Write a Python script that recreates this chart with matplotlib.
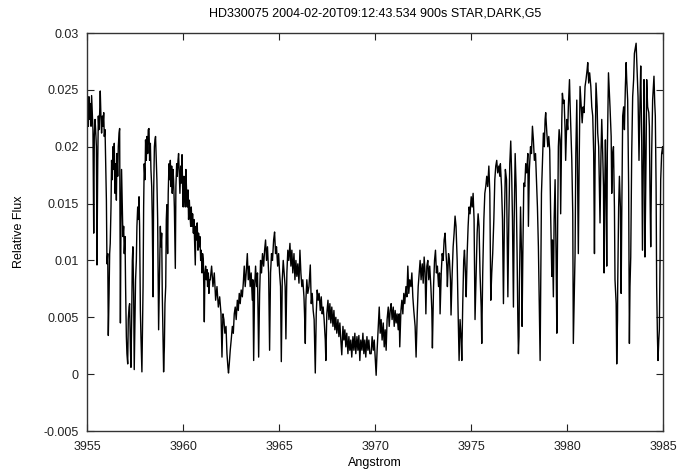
import numpy as np
import matplotlib
matplotlib.use("Agg")
import matplotlib.pyplot as plt

# spectrum, split into four pieces (Angstrom, relative flux)
wl_a = [3955.00, 3955.03, 3955.07, 3955.10, 3955.14, 3955.17, 3955.21, 3955.24, 3955.28, 3955.31,
        3955.35, 3955.38, 3955.42, 3955.45, 3955.49, 3955.52, 3955.56, 3955.59, 3955.62, 3955.66,
        3955.69, 3955.73, 3955.76, 3955.80, 3955.83, 3955.87, 3955.90, 3955.94, 3955.97, 3956.01,
        3956.04, 3956.08, 3956.11, 3956.15, 3956.18, 3956.21, 3956.25, 3956.28, 3956.32, 3956.35,
        3956.39, 3956.42, 3956.46, 3956.49, 3956.53, 3956.56, 3956.60, 3956.63, 3956.67, 3956.70,
        3956.74, 3956.77, 3956.80, 3956.84, 3956.87, 3956.91, 3956.94, 3956.98, 3957.01, 3957.05,
        3957.08, 3957.12, 3957.15, 3957.19, 3957.22, 3957.26, 3957.29, 3957.33, 3957.36, 3957.39,
        3957.43, 3957.46, 3957.50, 3957.53, 3957.57, 3957.60, 3957.64, 3957.67, 3957.71, 3957.74,
        3957.78, 3957.81, 3957.86, 3957.92, 3957.95, 3957.98, 3958.02, 3958.05, 3958.09, 3958.12,
        3958.16, 3958.19, 3958.23, 3958.26, 3958.30, 3958.33, 3958.37, 3958.40, 3958.44, 3958.47,
        3958.51, 3958.54, 3958.57, 3958.61, 3958.64, 3958.68, 3958.73, 3958.78, 3958.82, 3958.85,
        3958.89, 3958.92, 3958.96, 3958.99, 3959.03, 3959.06, 3959.10, 3959.13, 3959.16, 3959.20,
        3959.23, 3959.27, 3959.30, 3959.34, 3959.37, 3959.41, 3959.44, 3959.48, 3959.51, 3959.55,
        3959.60, 3959.63, 3959.67, 3959.70, 3959.74, 3959.77, 3959.81, 3959.84, 3959.88, 3959.91,
        3959.95, 3959.98, 3960.01, 3960.05, 3960.08, 3960.12, 3960.15, 3960.19, 3960.22, 3960.26,
        3960.29, 3960.33, 3960.36, 3960.40, 3960.43, 3960.47, 3960.50, 3960.54, 3960.57, 3960.60,
        3960.64, 3960.67, 3960.71, 3960.74, 3960.78, 3960.81, 3960.85, 3960.88, 3960.92, 3960.95,
        3960.99, 3961.02, 3961.06, 3961.11, 3961.14, 3961.18, 3961.21, 3961.25, 3961.28, 3961.32,
        3961.35, 3961.39]
flux_a = [0.0224, 0.0241, 0.0218, 0.0244, 0.0224, 0.0238, 0.0218, 0.0245, 0.0227, 0.0215,
          0.0124, 0.0209, 0.0224, 0.0215, 0.0200, 0.0096, 0.0188, 0.0227, 0.0215, 0.0230,
          0.0249, 0.0224, 0.0212, 0.0227, 0.0218, 0.0230, 0.0209, 0.0215, 0.0188, 0.0153,
          0.0097, 0.0106, 0.0034, 0.0071, 0.0106, 0.0115, 0.0147, 0.0188, 0.0171, 0.0200,
          0.0180, 0.0203, 0.0159, 0.0185, 0.0153, 0.0194, 0.0174, 0.0200, 0.0212, 0.0216,
          0.0045, 0.0136, 0.0180, 0.0147, 0.0121, 0.0130, 0.0106, 0.0121, 0.0077, 0.0033,
          0.0018, 0.0009, 0.0048, 0.0059, 0.0062, 0.0024, 0.0006, 0.0053, 0.0100, 0.0112,
          0.0071, 0.0004, 0.0048, 0.0083, 0.0100, 0.0130, 0.0147, 0.0136, 0.0156, 0.0130,
          0.0056, 0.0033, 0.0002, 0.0077, 0.0147, 0.0185, 0.0171, 0.0206, 0.0188, 0.0209,
          0.0194, 0.0215, 0.0216, 0.0188, 0.0203, 0.0180, 0.0165, 0.0136, 0.0068, 0.0159,
          0.0200, 0.0206, 0.0209, 0.0188, 0.0171, 0.0136, 0.0039, 0.0089, 0.0130, 0.0112,
          0.0124, 0.0071, 0.0030, 0.0002, 0.0024, 0.0062, 0.0077, 0.0136, 0.0149, 0.0106,
          0.0159, 0.0185, 0.0171, 0.0188, 0.0165, 0.0183, 0.0159, 0.0180, 0.0171, 0.0147,
          0.0093, 0.0165, 0.0185, 0.0174, 0.0188, 0.0194, 0.0174, 0.0159, 0.0183, 0.0168,
          0.0193, 0.0165, 0.0147, 0.0174, 0.0159, 0.0147, 0.0180, 0.0159, 0.0147, 0.0162,
          0.0136, 0.0153, 0.0141, 0.0130, 0.0147, 0.0130, 0.0141, 0.0124, 0.0136, 0.0118,
          0.0096, 0.0130, 0.0118, 0.0133, 0.0109, 0.0124, 0.0112, 0.0121, 0.0100, 0.0109,
          0.0089, 0.0106, 0.0100, 0.0046, 0.0089, 0.0095, 0.0083, 0.0092, 0.0077, 0.0089,
          0.0071, 0.0083]

wl_b = [3961.42, 3961.49, 3961.56, 3961.63, 3961.70, 3961.77, 3961.84, 3961.91, 3961.98, 3962.03,
        3962.08, 3962.13, 3962.18, 3962.24, 3962.29, 3962.34, 3962.37, 3962.41, 3962.46, 3962.51,
        3962.57, 3962.62, 3962.67, 3962.72, 3962.77, 3962.83, 3962.88, 3962.93, 3962.98, 3963.03,
        3963.09, 3963.14, 3963.19, 3963.24, 3963.29, 3963.35, 3963.40, 3963.45, 3963.50, 3963.55,
        3963.61, 3963.64, 3963.68, 3963.73, 3963.78, 3963.83, 3963.88, 3963.94, 3963.99, 3964.04,
        3964.09, 3964.14, 3964.20, 3964.25, 3964.30, 3964.35, 3964.40, 3964.46, 3964.51, 3964.56,
        3964.61, 3964.66, 3964.72, 3964.77, 3964.82, 3964.87, 3964.93, 3964.98, 3965.03, 3965.08,
        3965.12, 3965.17, 3965.22, 3965.27, 3965.32, 3965.36, 3965.41, 3965.46, 3965.51, 3965.57,
        3965.62, 3965.67, 3965.72, 3965.78, 3965.83, 3965.88, 3965.93, 3965.98, 3966.04, 3966.09,
        3966.14, 3966.19, 3966.24, 3966.30, 3966.33, 3966.37, 3966.40, 3966.45, 3966.50, 3966.56,
        3966.63, 3966.68, 3966.73, 3966.78, 3966.83, 3966.89, 3966.94, 3966.99, 3967.04, 3967.09,
        3967.15, 3967.20, 3967.25, 3967.30, 3967.35, 3967.41, 3967.44, 3967.49, 3967.55, 3967.60,
        3967.65, 3967.70, 3967.75, 3967.81, 3967.86, 3967.91, 3967.96, 3968.01, 3968.07, 3968.12,
        3968.17, 3968.22, 3968.27, 3968.33, 3968.38, 3968.43, 3968.48, 3968.53, 3968.59, 3968.64,
        3968.69, 3968.74, 3968.79, 3968.85, 3968.90, 3968.95, 3969.00, 3969.06, 3969.11, 3969.16,
        3969.21, 3969.26, 3969.32, 3969.37, 3969.42, 3969.47, 3969.52, 3969.58, 3969.63, 3969.68,
        3969.73]
flux_b = [0.0083, 0.0095, 0.0077, 0.0089, 0.0065, 0.0077, 0.0059, 0.0068, 0.0053, 0.0015,
          0.0053, 0.0048, 0.0036, 0.0042, 0.0018, 0.0006, 0.0001, 0.0009, 0.0021, 0.0030,
          0.0042, 0.0036, 0.0053, 0.0059, 0.0048, 0.0065, 0.0056, 0.0071, 0.0062, 0.0074,
          0.0068, 0.0080, 0.0095, 0.0077, 0.0089, 0.0106, 0.0083, 0.0095, 0.0077, 0.0089,
          0.0065, 0.0083, 0.0012, 0.0077, 0.0095, 0.0077, 0.0089, 0.0015, 0.0071, 0.0100,
          0.0089, 0.0106, 0.0095, 0.0109, 0.0118, 0.0100, 0.0112, 0.0089, 0.0021, 0.0089,
          0.0106, 0.0100, 0.0118, 0.0125, 0.0106, 0.0112, 0.0095, 0.0106, 0.0089, 0.0077,
          0.0011, 0.0083, 0.0100, 0.0089, 0.0077, 0.0031, 0.0089, 0.0109, 0.0100, 0.0115,
          0.0095, 0.0109, 0.0089, 0.0106, 0.0083, 0.0100, 0.0086, 0.0097, 0.0080, 0.0109,
          0.0089, 0.0077, 0.0083, 0.0068, 0.0053, 0.0027, 0.0065, 0.0083, 0.0071, 0.0077,
          0.0096, 0.0062, 0.0071, 0.0056, 0.0048, 0.0001, 0.0053, 0.0074, 0.0065, 0.0071,
          0.0056, 0.0068, 0.0053, 0.0059, 0.0048, 0.0030, 0.0012, 0.0053, 0.0065, 0.0048,
          0.0062, 0.0045, 0.0059, 0.0042, 0.0056, 0.0039, 0.0050, 0.0036, 0.0048, 0.0033,
          0.0045, 0.0030, 0.0017, 0.0042, 0.0030, 0.0039, 0.0024, 0.0036, 0.0018, 0.0033,
          0.0021, 0.0030, 0.0015, 0.0033, 0.0021, 0.0036, 0.0018, 0.0033, 0.0021, 0.0034,
          0.0012, 0.0030, 0.0021, 0.0036, 0.0018, 0.0030, 0.0015, 0.0033, 0.0021, 0.0030,
          0.0018]

wl_c = [3969.80, 3969.85, 3969.91, 3969.96, 3970.01, 3970.06, 3970.11, 3970.17, 3970.22, 3970.27,
        3970.32, 3970.37, 3970.43, 3970.48, 3970.53, 3970.58, 3970.63, 3970.69, 3970.74, 3970.79,
        3970.84, 3970.89, 3970.95, 3971.00, 3971.05, 3971.10, 3971.15, 3971.21, 3971.26, 3971.29,
        3971.35, 3971.40, 3971.45, 3971.50, 3971.55, 3971.61, 3971.66, 3971.71, 3971.76, 3971.81,
        3971.87, 3971.92, 3971.97, 3972.02, 3972.09, 3972.14, 3972.20, 3972.25, 3972.30, 3972.35,
        3972.40, 3972.46, 3972.51, 3972.56, 3972.61, 3972.65, 3972.70, 3972.75, 3972.80, 3972.85,
        3972.91, 3972.96, 3972.99, 3973.05, 3973.10, 3973.15, 3973.20, 3973.25, 3973.31, 3973.36,
        3973.39, 3973.45, 3973.50, 3973.55, 3973.60, 3973.65, 3973.70, 3973.74, 3973.77, 3973.83,
        3973.88, 3973.93, 3973.96, 3974.02, 3974.07, 3974.12, 3974.17, 3974.22, 3974.28, 3974.33,
        3974.38, 3974.43, 3974.49, 3974.52, 3974.57, 3974.62, 3974.66, 3974.71, 3974.75, 3974.80,
        3974.85, 3974.90, 3974.95, 3975.01, 3975.06, 3975.11, 3975.16, 3975.21, 3975.27, 3975.32,
        3975.37, 3975.42, 3975.47, 3975.53, 3975.56, 3975.61, 3975.67, 3975.72, 3975.77, 3975.82,
        3975.87, 3975.93, 3975.98, 3976.03, 3976.08, 3976.13, 3976.19, 3976.24, 3976.29, 3976.34,
        3976.39, 3976.45, 3976.50, 3976.53, 3976.59, 3976.64, 3976.69, 3976.74, 3976.79, 3976.85,
        3976.88, 3976.92, 3976.97, 3977.02, 3977.07, 3977.12, 3977.16, 3977.21, 3977.25, 3977.30,
        3977.35, 3977.40, 3977.44, 3977.47, 3977.50]
flux_c = [0.0018, 0.0033, 0.0021, 0.0030, 0.0015, -0.0001, 0.0021, 0.0042, 0.0059, 0.0036,
          0.0048, 0.0030, 0.0045, 0.0024, 0.0039, 0.0021, 0.0048, 0.0059, 0.0042, 0.0056,
          0.0062, 0.0048, 0.0059, 0.0042, 0.0056, 0.0045, 0.0053, 0.0039, 0.0053, 0.0024,
          0.0056, 0.0065, 0.0053, 0.0071, 0.0062, 0.0077, 0.0068, 0.0095, 0.0071, 0.0083,
          0.0077, 0.0089, 0.0068, 0.0056, 0.0042, 0.0015, 0.0053, 0.0077, 0.0089, 0.0100,
          0.0083, 0.0097, 0.0080, 0.0103, 0.0089, 0.0053, 0.0095, 0.0100, 0.0083, 0.0095,
          0.0077, 0.0056, 0.0023, 0.0077, 0.0100, 0.0109, 0.0089, 0.0095, 0.0077, 0.0089,
          0.0053, 0.0089, 0.0106, 0.0100, 0.0118, 0.0124, 0.0106, 0.0095, 0.0077, 0.0106,
          0.0100, 0.0083, 0.0052, 0.0089, 0.0112, 0.0124, 0.0139, 0.0130, 0.0100, 0.0053,
          0.0012, 0.0048, 0.0030, 0.0012, 0.0062, 0.0100, 0.0109, 0.0089, 0.0068, 0.0106,
          0.0130, 0.0147, 0.0141, 0.0156, 0.0147, 0.0159, 0.0136, 0.0048, 0.0089, 0.0124,
          0.0141, 0.0130, 0.0089, 0.0059, 0.0027, 0.0089, 0.0136, 0.0159, 0.0165, 0.0174,
          0.0165, 0.0183, 0.0159, 0.0065, 0.0089, 0.0106, 0.0136, 0.0171, 0.0183, 0.0188,
          0.0177, 0.0183, 0.0174, 0.0185, 0.0165, 0.0136, 0.0062, 0.0136, 0.0180, 0.0171,
          0.0130, 0.0068, 0.0136, 0.0185, 0.0205, 0.0174, 0.0136, 0.0059, 0.0136, 0.0194,
          0.0165, 0.0106, 0.0048, 0.0018, 0.0033]

wl_d = [3977.52, 3977.58, 3977.63, 3977.66, 3977.70, 3977.75, 3977.80, 3977.85, 3977.90, 3977.96,
        3977.99, 3978.04, 3978.10, 3978.15, 3978.20, 3978.25, 3978.30, 3978.36, 3978.41, 3978.46,
        3978.51, 3978.56, 3978.60, 3978.63, 3978.67, 3978.72, 3978.77, 3978.82, 3978.86, 3978.89,
        3978.95, 3979.00, 3979.05, 3979.10, 3979.15, 3979.21, 3979.24, 3979.29, 3979.33, 3979.38,
        3979.43, 3979.47, 3979.50, 3979.55, 3979.59, 3979.64, 3979.67, 3979.73, 3979.76, 3979.81,
        3979.85, 3979.90, 3979.93, 3979.99, 3980.04, 3980.07, 3980.13, 3980.16, 3980.20, 3980.25,
        3980.30, 3980.33, 3980.37, 3980.42, 3980.46, 3980.51, 3980.54, 3980.59, 3980.63, 3980.68,
        3980.73, 3980.79, 3980.84, 3980.89, 3980.94, 3980.99, 3981.05, 3981.08, 3981.13, 3981.18,
        3981.24, 3981.29, 3981.34, 3981.39, 3981.43, 3981.46, 3981.51, 3981.57, 3981.60, 3981.65,
        3981.72, 3981.77, 3981.81, 3981.86, 3981.90, 3981.93, 3981.97, 3982.00, 3982.03, 3982.07,
        3982.10, 3982.16, 3982.21, 3982.24, 3982.30, 3982.33, 3982.38, 3982.42, 3982.47, 3982.50,
        3982.56, 3982.59, 3982.63, 3982.64, 3982.69, 3982.73, 3982.78, 3982.82, 3982.85, 3982.90,
        3982.95, 3982.99, 3983.04, 3983.08, 3983.11, 3983.16, 3983.21, 3983.25, 3983.28, 3983.32,
        3983.37, 3983.42, 3983.47, 3983.51, 3983.54, 3983.60, 3983.65, 3983.70, 3983.75, 3983.80,
        3983.84, 3983.89, 3983.93, 3983.98, 3984.01, 3984.05, 3984.06, 3984.12, 3984.15, 3984.20,
        3984.26, 3984.29, 3984.32, 3984.36, 3984.41, 3984.46, 3984.50, 3984.53, 3984.57, 3984.60,
        3984.64, 3984.67, 3984.71, 3984.74, 3984.78, 3984.81, 3984.85, 3984.88, 3984.93, 3984.98,
        3985.00]
flux_d = [0.0077, 0.0147, 0.0106, 0.0042, 0.0106, 0.0168, 0.0165, 0.0185, 0.0177, 0.0194,
          0.0130, 0.0180, 0.0200, 0.0194, 0.0218, 0.0206, 0.0188, 0.0194, 0.0171, 0.0147,
          0.0112, 0.0059, 0.0012, 0.0077, 0.0159, 0.0185, 0.0212, 0.0200, 0.0224, 0.0230,
          0.0212, 0.0200, 0.0209, 0.0197, 0.0139, 0.0086, 0.0118, 0.0068, 0.0136, 0.0171,
          0.0106, 0.0036, 0.0106, 0.0200, 0.0215, 0.0206, 0.0141, 0.0224, 0.0247, 0.0238,
          0.0241, 0.0215, 0.0188, 0.0224, 0.0215, 0.0235, 0.0259, 0.0238, 0.0215, 0.0188,
          0.0141, 0.0027, 0.0062, 0.0106, 0.0194, 0.0241, 0.0194, 0.0106, 0.0180, 0.0253,
          0.0238, 0.0221, 0.0235, 0.0230, 0.0253, 0.0259, 0.0268, 0.0274, 0.0256, 0.0265,
          0.0253, 0.0235, 0.0227, 0.0194, 0.0106, 0.0180, 0.0256, 0.0235, 0.0212, 0.0200,
          0.0133, 0.0194, 0.0224, 0.0194, 0.0165, 0.0089, 0.0165, 0.0206, 0.0171, 0.0095,
          0.0194, 0.0265, 0.0247, 0.0235, 0.0209, 0.0159, 0.0194, 0.0200, 0.0147, 0.0083,
          0.0062, 0.0009, 0.0048, 0.0077, 0.0147, 0.0174, 0.0147, 0.0071, 0.0136, 0.0227,
          0.0235, 0.0215, 0.0253, 0.0274, 0.0259, 0.0241, 0.0165, 0.0027, 0.0077, 0.0103,
          0.0194, 0.0244, 0.0259, 0.0282, 0.0285, 0.0291, 0.0268, 0.0244, 0.0188, 0.0238,
          0.0271, 0.0209, 0.0109, 0.0194, 0.0259, 0.0194, 0.0103, 0.0194, 0.0259, 0.0235,
          0.0230, 0.0218, 0.0165, 0.0112, 0.0194, 0.0241, 0.0253, 0.0262, 0.0238, 0.0227,
          0.0165, 0.0077, 0.0033, 0.0012, 0.0030, 0.0039, 0.0106, 0.0171, 0.0194, 0.0200,
          0.0194]

title = "HD330075 2004-02-20T09:12:43.534 900s STAR,DARK,G5"
x_ticks = [3955, 3960, 3965, 3970, 3975, 3980, 3985]
y_ticks = [-0.005, 0, 0.005, 0.01, 0.015, 0.02, 0.025, 0.03]
y_tick_labels = ["-0.005", "0", "0.005", "0.01", "0.015", "0.02", "0.025", "0.03"]

wavelength = np.concatenate([wl_a, wl_b, wl_c, wl_d])
flux = np.concatenate([flux_a, flux_b, flux_c, flux_d])

plt.rcParams['font.family'] = ['Liberation Sans', 'DejaVu Sans']

fig = plt.figure(figsize=(6.85, 4.70), dpi=100)
ax = fig.add_axes([87 / 685, 39 / 470, 576 / 685, 398 / 470])

ax.plot(wavelength, flux, color="black", linewidth=1.0)

ax.set_xlim(3955, 3985)
ax.set_ylim(-0.005, 0.03)
ax.set_xticks(x_ticks)
ax.set_xticklabels([str(t) for t in x_ticks])
ax.set_yticks(y_ticks)
ax.set_yticklabels(y_tick_labels)

# gnuplot style: inward ticks mirrored on all four sides
ax.tick_params(direction="in", length=5, width=0.8, top=True, right=True,
               labelsize=9, colors="#222222")
ax.tick_params(axis="x", pad=7)
ax.tick_params(axis="y", pad=6)
for side in ax.spines.values():
    side.set_linewidth(1.0)
    side.set_color("#333333")

ax.set_title(title, fontsize=9, pad=12)
ax.set_xlabel("Angstrom", fontsize=9, labelpad=3)
ax.set_ylabel("Relative Flux", fontsize=9, labelpad=13)

fig.savefig("out.png", dpi=100)
